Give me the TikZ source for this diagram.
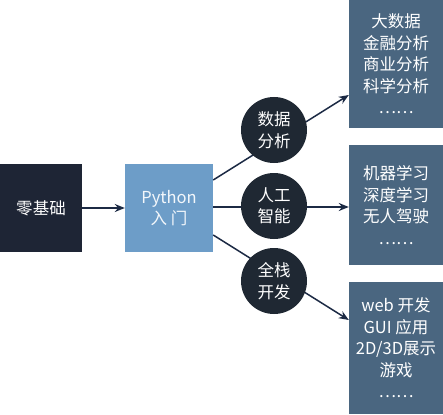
\documentclass[tikz,border=0pt]{standalone}
\usepackage{fontspec}
\setmainfont{Noto Sans CJK SC}
\usetikzlibrary{arrows.meta}
\definecolor{darkbox}{HTML}{1E2535}
\definecolor{pybox}{HTML}{6D9DC8}
\definecolor{circ}{HTML}{1F2833}
\definecolor{rbox}{HTML}{4A6680}
\definecolor{arr}{HTML}{1C2A44}
\begin{document}
\begin{tikzpicture}[x=1pt,y=-1pt,
  txt/.style={text=white,font=\fontsize{16.5}{21.5}\selectfont,align=center,inner sep=0pt},
  leftbox/.style={txt,fill=darkbox,minimum width=82pt,minimum height=88pt},
  pbox/.style={txt,fill=pybox,minimum width=88pt,minimum height=88pt,text=white!92!pybox},
  topic/.style={txt,circle,fill=circ,minimum size=66pt},
  outbox/.style={txt,fill=rbox,minimum width=94pt},
  conn/.style={draw=arr,line width=1.5pt,-{Stealth[length=10pt,width=8pt]}}
]
\useasboundingbox (0,0) rectangle (443,414);
\node[leftbox] (zero) at (41,208) {零基础};
\node[pbox] (py) at (169,208) {Python\\入 门};
\node[outbox,minimum height=128pt] (b1) at (396,64) {大数据\\金融分析\\商业分析\\科学分析\\……};
\node[outbox,minimum height=120pt] (b2) at (396,205) {机器学习\\深度学习\\无人驾驶\\……};
\node[outbox,minimum height=132pt] (b3) at (396,348) {web 开发\\GUI 应用\\2D/3D展示\\游戏\\……};
\draw[conn] (zero.east) -- (py.west);
\draw[conn] ([yshift=28pt]py.east) -- ([yshift=-31pt]b1.west);
\draw[conn] ([yshift=1pt]py.east) -- ([yshift=-2pt]b2.west);
\draw[conn] ([yshift=-27pt]py.east) -- ([yshift=28pt]b3.west);
\node[topic] (c1) at (274,130) {数据\\分析};
\node[topic] (c2) at (274,206) {人工\\智能};
\node[topic] (c3) at (274,281) {全栈\\开发};
\end{tikzpicture}
\end{document}
